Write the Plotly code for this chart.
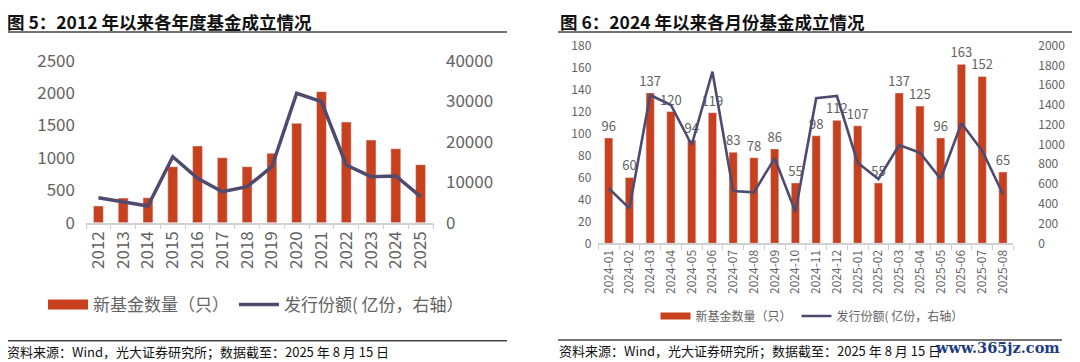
import plotly.graph_objects as go

# ---------------- data ----------------
years = [str(y) for y in range(2012, 2026)]
annual_count = [258, 380, 385, 864, 1184, 1003, 864, 1071, 1534, 2022, 1554, 1276, 1142, 895]
annual_share = [6170, 5190, 4120, 16300, 10960, 7650, 8890, 13830, 31950, 29880, 14250, 11360, 11530, 6420]

months = ["2024-01", "2024-02", "2024-03", "2024-04", "2024-05", "2024-06", "2024-07",
          "2024-08", "2024-09", "2024-10", "2024-11", "2024-12", "2025-01", "2025-02",
          "2025-03", "2025-04", "2025-05", "2025-06", "2025-07", "2025-08"]
monthly_count = [96, 60, 137, 120, 94, 119, 83, 78, 86, 55, 98, 112, 107, 55, 137, 125, 96, 163, 152, 65]
monthly_share = [557, 354, 1501, 1400, 995, 1737, 529, 516, 860, 320, 1468, 1491, 816, 651,
                 995, 917, 651, 1215, 937, 499]

title_left = "图 5：2012 年以来各年度基金成立情况"
title_right = "图 6：2024 年以来各月份基金成立情况"
source_text = "资料来源：Wind，光大证券研究所；数据截至：2025 年 8 月 15 日"
name_bar = "新基金数量（只）"
name_line = "发行份额( 亿份，右轴）"

# ---------------- style ----------------
OFF = 8                      # page body margin offset
W, H = 1080 - OFF, 362 - OFF
BAR = "#C8411F"
LINE = "#4E4B70"
GRAY = "#636363"
AXIS = "#D0D0D0"
FONT = "Noto Sans CJK SC"


def px(x):
    return (x - OFF) / W


def py(y):
    return 1 - (y - OFF) / H


fig = go.Figure()

# left chart
fig.add_trace(go.Bar(x=years, y=annual_count, name=name_bar, marker_color=BAR,
                     xaxis="x", yaxis="y", showlegend=False))
# legend key for the bars (wide flat swatch, like the original)
fig.add_trace(go.Scatter(x=[None], y=[None], name=name_bar, mode="lines",
                         line=dict(color=BAR, width=10), xaxis="x", yaxis="y",
                         legend="legend"))
fig.add_trace(go.Scatter(x=years, y=annual_share, name=name_line, mode="lines",
                         line=dict(color=LINE, width=3.5), xaxis="x", yaxis="y2",
                         legend="legend"))

# right chart
fig.add_trace(go.Bar(x=months, y=monthly_count, name=name_bar, marker_color=BAR,
                     text=[str(v) for v in monthly_count], textposition="outside",
                     constraintext="none",
                     textfont=dict(size=13, color=GRAY, family=FONT), cliponaxis=False,
                     xaxis="x2", yaxis="y3", showlegend=False))
fig.add_trace(go.Scatter(x=[None], y=[None], name=name_bar, mode="lines",
                         line=dict(color=BAR, width=7), xaxis="x2", yaxis="y3",
                         legend="legend2"))
fig.add_trace(go.Scatter(x=months, y=monthly_share, name=name_line, mode="lines",
                         line=dict(color=LINE, width=2.6), xaxis="x2", yaxis="y4",
                         legend="legend2"))

xcommon = dict(type="category", showgrid=False, showline=True, linecolor=AXIS, linewidth=1.5,
               ticks="outside", tickson="boundaries", ticklen=5, tickcolor=AXIS,
               tickangle=-90, zeroline=False, automargin=False)
ycommon = dict(showgrid=False, zeroline=False, showline=False, ticks="", automargin=False,
               tickformat="d")

fig.update_layout(
    width=W, height=H,
    margin=dict(l=0, r=0, t=0, b=0, autoexpand=False),
    paper_bgcolor="white", plot_bgcolor="white",
    font=dict(family=FONT, color=GRAY),
    bargap=0.6,
    xaxis=dict(**xcommon, domain=[px(86), px(433)], anchor="y",
               tickfont=dict(size=17, color=GRAY)),
    yaxis=dict(**ycommon, domain=[py(222.7), py(60.7)], range=[0, 2500], dtick=500,
               anchor="x", tickfont=dict(size=17, color=GRAY), ticklabelstandoff=10),
    yaxis2=dict(**ycommon, overlaying="y", side="right", range=[0, 40000], dtick=10000,
                anchor="x", tickfont=dict(size=17, color=GRAY), ticklabelstandoff=12),
    xaxis2=dict(**xcommon, domain=[px(598.3), px(1013.3)], anchor="y3",
                tickfont=dict(size=12, color=GRAY)),
    yaxis3=dict(**ycommon, domain=[py(243.3), py(45.7)], range=[0, 180], dtick=20,
                anchor="x2", tickfont=dict(size=12, color=GRAY), ticklabelstandoff=6),
    yaxis4=dict(**ycommon, overlaying="y3", side="right", range=[0, 2000], dtick=200,
                anchor="x2", tickfont=dict(size=12, color=GRAY), ticklabelstandoff=24),
    legend=dict(orientation="h", x=px(256), y=py(305), xanchor="center", yanchor="middle",
                font=dict(size=17, color=GRAY), itemwidth=40, bgcolor="rgba(0,0,0,0)"),
    legend2=dict(orientation="h", x=px(812), y=py(316), xanchor="center", yanchor="middle",
                 font=dict(size=12, color=GRAY), itemwidth=30, bgcolor="rgba(0,0,0,0)"),
    showlegend=True,
)

# titles, rules, footers
annos = [
    dict(text=f"<b>{title_left}</b>", x=px(5), y=py(21), xanchor="left", yanchor="middle",
         font=dict(size=17.5, color="#111111")),
    dict(text=f"<b>{title_right}</b>", x=px(558), y=py(21), xanchor="left", yanchor="middle",
         font=dict(size=17.5, color="#111111")),
    dict(text=source_text, x=px(5), y=py(351), xanchor="left", yanchor="middle",
         font=dict(size=13, color="#111111")),
    dict(text=source_text, x=px(557), y=py(350), xanchor="left", yanchor="middle",
         font=dict(size=13, color="#111111")),
    dict(text="<b>www.365jz.com</b>", x=px(1062), y=py(347), xanchor="right", yanchor="middle",
         font=dict(size=14.5, color="#1E3C82", family="DejaVu Serif")),
]
for a in annos:
    a.update(xref="paper", yref="paper", showarrow=False)
fig.update_layout(annotations=annos)

shapes = []
for (x0, x1, y) in [(5, 507, 32), (558, 1078, 32), (5, 507, 340.7), (558, 1062, 340)]:
    shapes.append(dict(type="line", xref="paper", yref="paper", x0=px(x0), x1=px(x1),
                       y0=py(y), y1=py(y), line=dict(color="#444444", width=1.5)))
fig.update_layout(shapes=shapes)

fig.write_html("out.html")
